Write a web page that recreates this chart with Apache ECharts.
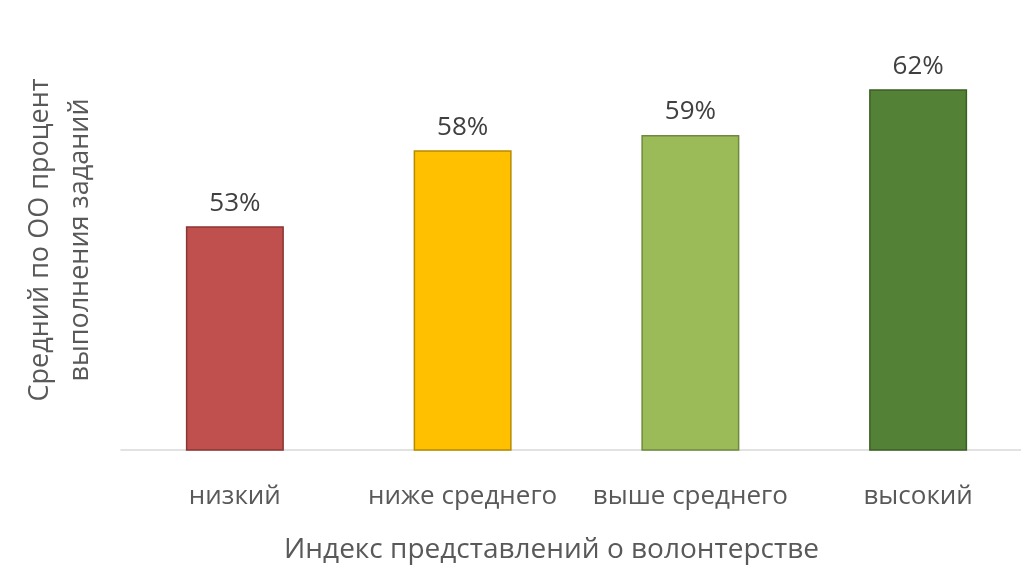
<!DOCTYPE html>
<html><head><meta charset="utf-8">
<script src="https://cdn.jsdelivr.net/npm/echarts@6/dist/echarts.min.js"></script>
<style>html,body{margin:0;padding:0;background:#fff}#c{width:1021px;height:581px}</style>
</head><body><div id="c"></div>
<script>
const categories = ["низкий", "ниже среднего", "выше среднего", "высокий"];
const values = [53, 58, 59, 62];
const barColors = ["#C0504D", "#FFC000", "#9BBB59", "#538135"];
const borderColors = ["#8B3533", "#B88A00", "#6F8A3E", "#3B5E25"];
const xTitle = "Индекс представлений о волонтерстве";
const yTitle = "Средний по ОО процент\nвыполнения заданий";

const chart = echarts.init(document.getElementById('c'));
chart.setOption({
  animation: false,
  grid: {left: 121, right: -11, top: 30, bottom: 131, outerBoundsMode: 'none', containLabel: false},
  xAxis: {
    type: 'category', data: categories,
    axisLine: {lineStyle: {color: '#D9D9D9', width: 1.5}},
    axisTick: {show: false},
    axisLabel: {color: '#595959', fontSize: 26, fontFamily: 'Open Sans', margin: 34, interval: 0, hideOverlap: false},
    name: xTitle, nameLocation: 'middle', nameGap: 86,
    nameTextStyle: {color: '#595959', fontSize: 28, fontFamily: 'Open Sans', padding: [0, 0, 0, -50]}
  },
  yAxis: {
    type: 'value', min: 38.3, max: 65.9,
    show: true, splitLine: {show: false}, axisLine: {show: false},
    axisTick: {show: false}, axisLabel: {show: false},
    name: yTitle, nameLocation: 'middle', nameGap: 21, nameRotate: 90,
    nameTextStyle: {color: '#595959', fontSize: 27, fontFamily: 'Open Sans', lineHeight: 40}
  },
  series: [{
    type: 'bar', barWidth: 98,
    data: values.map((v, i) => ({value: v, itemStyle: {color: barColors[i], borderColor: borderColors[i], borderWidth: 1.5}})),
    label: {show: true, position: 'top', distance: 10, formatter: p => p.value + '%',
      color: '#404040', fontSize: 26, fontFamily: 'Open Sans'}
  }]
});
</script></body></html>
